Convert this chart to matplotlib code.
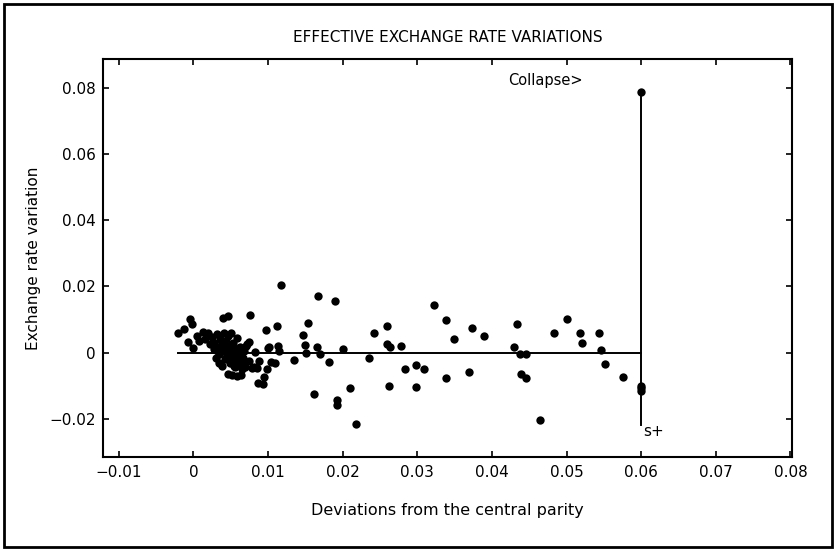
import matplotlib
matplotlib.use("Agg")
import matplotlib.pyplot as plt
from matplotlib.patches import Rectangle

# Deviations from the central parity (x) and exchange rate variation (y)
x_vals = [
    -0.0021, -0.0013, -0.0005, -0.0002, -0.0007, 0.0000, 0.0005, 0.0008, 0.0013, 0.0016,
    0.0020, 0.0022, 0.0025, 0.0028, 0.0030, 0.0032, 0.0033, 0.0035, 0.0036, 0.0038,
    0.0040, 0.0041, 0.0042, 0.0043, 0.0044, 0.0045, 0.0046, 0.0047, 0.0048, 0.0049,
    0.0050, 0.0051, 0.0052, 0.0053, 0.0054, 0.0055, 0.0056, 0.0057, 0.0058, 0.0059,
    0.0060, 0.0062, 0.0063, 0.0065, 0.0066, 0.0068, 0.0069, 0.0070, 0.0072, 0.0074,
    0.0076, 0.0074, 0.0078, 0.0081, 0.0082, 0.0085, 0.0087, 0.0088, 0.0093, 0.0095,
    0.0097, 0.0099, 0.0100, 0.0102, 0.0104, 0.0110, 0.0112, 0.0113, 0.0115, 0.0117,
    0.0047, 0.0052, 0.0064, 0.0030, 0.0034, 0.0038,
    0.0027, 0.0039, 0.0044, 0.0050, 0.0057, 0.0061, 0.0067,
    0.0135, 0.0147, 0.0149, 0.0151, 0.0154, 0.0161, 0.0166, 0.0167, 0.0170, 0.0182,
    0.0190, 0.0193, 0.0193, 0.0200, 0.0210, 0.0218, 0.0235, 0.0242, 0.0259, 0.0259,
    0.0263, 0.0262, 0.0278, 0.0283, 0.0298, 0.0298, 0.0309, 0.0322, 0.0339, 0.0339,
    0.0349, 0.0369, 0.0373, 0.0389, 0.0434, 0.0430, 0.0437, 0.0446, 0.0439, 0.0446,
    0.0464, 0.0483, 0.0501, 0.0518, 0.0521, 0.0543, 0.0546, 0.0552, 0.0576,
    0.0600, 0.0600, 0.0600, 0.0600,
]
y_vals = [
    0.0061, 0.0071, 0.0102, 0.0086, 0.0031, 0.0014, 0.0049, 0.0034, 0.0064, 0.0040,
    0.0058, 0.0025, 0.0047, 0.0030, 0.0008, 0.0055, 0.0018, -0.0005, 0.0040, 0.0025,
    0.0105, 0.0060, -0.0020, 0.0010, 0.0035, -0.0008, 0.0110, 0.0050, 0.0020, -0.0030,
    0.0003, 0.0060, -0.0015, 0.0030, -0.0040, 0.0012, -0.0042, -0.0025, 0.0045, -0.0069,
    -0.0005, -0.0035, 0.0018, -0.0050, -0.0015, 0.0005, -0.0042, 0.0021, 0.0027, 0.0032,
    0.0114, -0.0025, -0.0046, -0.0042, 0.0002, -0.0046, -0.0090, -0.0026, -0.0095, -0.0074,
    0.0070, -0.0048, 0.0014, 0.0016, -0.0028, -0.0032, 0.0082, 0.0021, 0.0005, 0.0204,
    -0.0063, -0.0066, -0.0068, -0.0015, -0.0030, -0.0040,
    0.0012, 0.0005, 0.0022, -0.0018, 0.0008, -0.0022, -0.0030,
    -0.0021, 0.0053, 0.0024, -0.0002, 0.0090, -0.0126, 0.0016, 0.0170, -0.0003, -0.0029,
    0.0157, -0.0143, -0.0159, 0.0010, -0.0108, -0.0214, -0.0015, 0.0058, 0.0081, 0.0026,
    0.0018, -0.0101, 0.0021, -0.0048, -0.0038, -0.0105, -0.0050, 0.0143, 0.0099, -0.0075,
    0.0041, -0.0059, 0.0074, 0.0050, 0.0087, 0.0017, -0.0005, -0.0005, -0.0065, -0.0075,
    -0.0202, 0.0061, 0.0102, 0.0061, 0.0028, 0.0061, 0.0008, -0.0034, -0.0074,
    0.0787, -0.0100, -0.0108, -0.0117,
]

x_ticks = [-0.01, 0, 0.01, 0.02, 0.03, 0.04, 0.05, 0.06, 0.07, 0.08]
x_tick_labels = ["\u22120.01", "0", "0.01", "0.02", "0.03", "0.04", "0.05", "0.06", "0.07", "0.08"]
y_ticks = [-0.02, 0, 0.02, 0.04, 0.06, 0.08]
y_tick_labels = ["\u22120.02", "0", "0.02", "0.04", "0.06", "0.08"]

zero_line_x = [-0.002, 0.06]
collapse_x = 0.06
collapse_y = [-0.0217, 0.079]

plt.rcParams['font.family'] = ['DejaVu Sans']

fig = plt.figure(figsize=(8.37, 5.51), dpi=100)
ax = fig.add_axes([0.1231, 0.1706, 0.8231, 0.7223])

ax.plot(zero_line_x, [0, 0], color='black', lw=1.4, zorder=2)
ax.plot([collapse_x, collapse_x], collapse_y, color='black', lw=1.4, zorder=2)
ax.scatter(x_vals, y_vals, s=36, color='black', marker='o', zorder=3, linewidths=0)

ax.set_xlim(-0.0121, 0.0802)
ax.set_ylim(-0.0315, 0.0887)
ax.set_xticks(x_ticks)
ax.set_xticklabels(x_tick_labels)
ax.set_yticks(y_ticks)
ax.set_yticklabels(y_tick_labels)
ax.tick_params(direction='in', length=4, width=1.2, top=True, right=True,
               labelsize=11, pad=6)
ax.tick_params(axis='y', pad=5)
for sp in ax.spines.values():
    sp.set_linewidth(1.5)

ax.text(0.0422, 0.0823, "Collapse>", fontsize=10.5, ha='left', va='center')
ax.text(0.0602, -0.0238, "s+", fontsize=11, ha='left', va='center')

ax.set_title("EFFECTIVE EXCHANGE RATE VARIATIONS", fontsize=11, pad=12)
ax.set_xlabel("Deviations from the central parity", fontsize=11.5, labelpad=16)
ax.set_ylabel("Exchange rate variation", fontsize=11, labelpad=6)

border = Rectangle((4 / 837, 4 / 551), 828 / 837, 543 / 551, transform=fig.transFigure,
                   fill=False, edgecolor='black', linewidth=2.0)
fig.patches.append(border)

fig.savefig("out.png", dpi=100)
